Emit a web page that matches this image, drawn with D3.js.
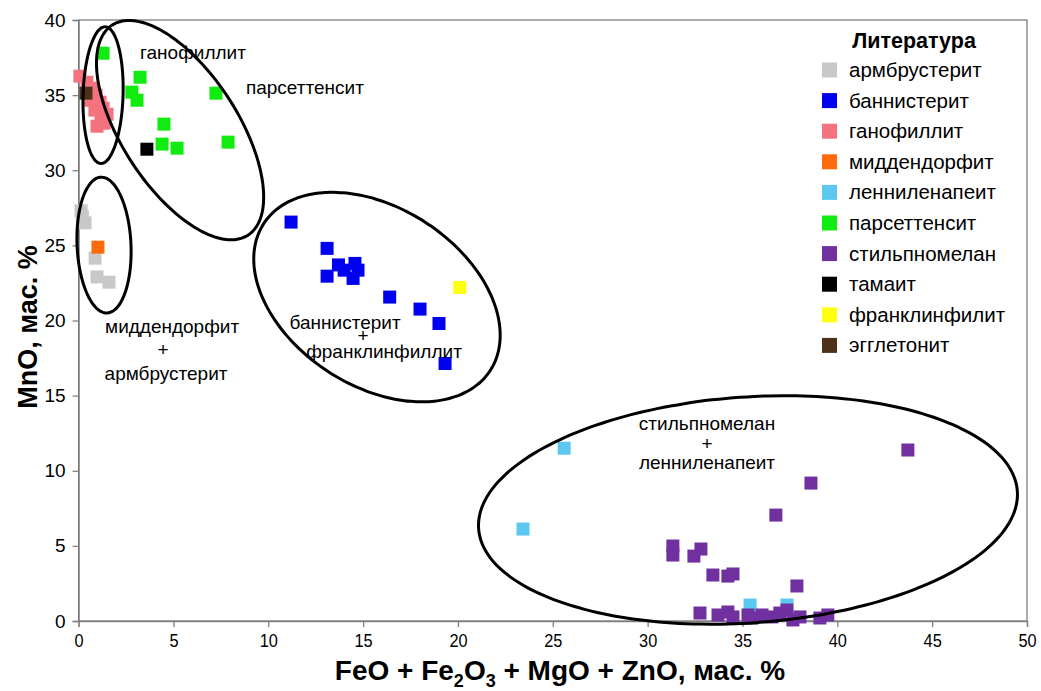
<!DOCTYPE html>
<html><head><meta charset="utf-8">
<script src="https://cdn.jsdelivr.net/npm/d3@7"></script>
<style>
body{margin:0;background:#fff}
text{font-family:"Liberation Sans",Arial,sans-serif;fill:#000}
</style>
</head><body>
<svg id="chart" width="1041" height="691"></svg>
<script>
// ---------- data ----------
const xTicks = [0,5,10,15,20,25,30,35,40,45,50];
const yTicks = [0,5,10,15,20,25,30,35,40];

const seriesNames = ["армбрустерит","баннистерит","ганофиллит","миддендорфит","ленниленапеит",
  "парсеттенсит","стильпномелан","тамаит","франклинфилит","эгглетонит"];
const seriesColors = ["#c8c8c8","#0000f0","#f4737f","#ff6a0a","#5cc8f0",
  "#10ec10","#7030a0","#000000","#ffff10","#4e3119"];

const armbrusterite = [[0.13,27.3],[0.2,26.9],[0.34,26.5],[0.87,24.15],[0.97,22.9],[1.6,22.55]];
const bannisterite = [[11.2,26.55],[13.1,24.8],[13.1,22.95],[13.7,23.7],[14.0,23.35],[14.57,23.8],
  [14.73,23.35],[14.47,22.8],[16.4,21.56],[18.0,20.76],[19.0,19.8],[19.32,17.14]];
const ganophyllite = [[0.07,36.26],[0.44,35.86],[0.71,35.46],[0.92,35.0],[1.13,34.53],[1.29,34.13],
  [1.5,33.73],[1.18,33.4],[0.97,32.93],[1.34,33.13],[0.6,34.66],[0.86,34.0]];
const middendorfite = [[1.02,24.88]];
const lennilenapeite = [[25.6,11.5],[23.43,6.12],[35.4,1.06],[37.35,1.06]];
const parsettensite = [[1.29,37.79],[3.24,36.19],[2.81,35.2],[3.08,34.66],[7.24,35.13],
  [4.5,33.07],[4.4,31.74],[5.19,31.47],[7.88,31.87]];
const stilpnomelane = [[43.72,11.38],[38.61,9.18],[36.76,7.05],[31.33,4.99],[31.33,4.39],[32.81,4.79],
  [32.44,4.32],[33.44,3.06],[34.23,2.99],[34.5,3.13],[37.87,2.33],
  [32.76,0.53],[33.71,0.4],[34.23,0.6],[34.5,0.27],[35.29,0.4],[35.5,0.2],[36.03,0.4],
  [36.55,0.27],[36.97,0.53],[37.34,0.73],[37.66,0.07],[38.03,0.27],[39.08,0.2],[39.5,0.4]];
const tamaite = [[3.6,31.4]];
const franklinphilite = [[20.1,22.2]];
const eggletonite = [[0.39,35.13]];

const seriesValues = [armbrusterite,bannisterite,ganophyllite,middendorfite,lennilenapeite,
  parsettensite,stilpnomelane,tamaite,franklinphilite,eggletonite];

// group ellipses: centre and two conjugate semi-axis vectors (data units)
const ellipseCentres = [[1.29,35.0],[5.35,32.67],[1.34,25.02],[15.73,21.56],[35.29,7.39]];
const ellipseAxisA  = [[0.105,4.55],[3.58,-6.99],[-0.16,4.52],[5.97,-4.89],[14.2,1.25]];
const ellipseAxisB  = [[1.054,0],[2.57,2.10],[1.42,0.07],[-2.56,-4.97],[0.42,-7.5]];

// group labels: lines of text with anchor positions (data units)
const groupLabelText = ["ганофиллит","парсеттенсит","миддендорфит","+","армбрустерит",
  "баннистерит","+","франклинфиллит","стильпномелан","+","ленниленапеит"];
const groupLabelPos = [[6.03,37.4],[11.93,35.06],[4.93,19.16],[4.45,17.63],[4.61,16.03],
  [14.05,19.43],[15.0,18.6],[16.1,17.5],[33.13,12.7],[33.13,11.38],[33.13,10.11]];

const legendTitle = "Литература";
const xTitleParts = [["FeO + Fe",""],["2","sub"],["O",""],["3","sub"],[" + MgO + ZnO, мас. %",""]];
const yTitle = "MnO, мас. %";

// ---------- layout ----------
const svg = d3.select("#chart");
const L = 78.6, R = 1027, T = 20, B = 621;
const x = d3.scaleLinear().domain([0,50]).range([L,R]);
const y = d3.scaleLinear().domain([0,40]).range([B,T]);

// frame
svg.append("rect").attr("x",L).attr("y",T).attr("width",R-L).attr("height",B-T)
  .attr("fill","none").attr("stroke","#5a5a5a").attr("stroke-width",1);

// axes
const xAxis = svg.append("g").attr("transform",`translate(0,${B})`)
  .call(d3.axisBottom(x).tickValues(xTicks).tickSize(6).tickPadding(5).tickFormat(d3.format("d")));
const yAxis = svg.append("g").attr("transform",`translate(${L},0)`)
  .call(d3.axisLeft(y).tickValues(yTicks).tickSize(6).tickPadding(7).tickFormat(d3.format("d")));
[xAxis,yAxis].forEach(g=>{
  g.select(".domain").attr("stroke","#808080").attr("stroke-width",1.3);
  g.selectAll(".tick line").attr("stroke","#808080").attr("stroke-width",1.3);
  g.selectAll(".tick text").attr("font-family","Liberation Sans, Arial, sans-serif")
    .attr("font-size",19).attr("fill","#111");
});
xAxis.selectAll(".tick text").attr("transform","scale(0.86,1)").attr("dy","0.8em");

// points
const sq = 13;
seriesValues.forEach((vals,i)=>{
  svg.append("g").selectAll("rect").data(vals).join("rect")
    .attr("x",d=>x(d[0])-sq/2).attr("y",d=>y(d[1])-sq/2)
    .attr("width",sq).attr("height",sq).attr("fill",seriesColors[i]);
});

// ellipses
const ts = d3.range(0,361,3).map(a=>a*Math.PI/180);
const line = d3.line().x(p=>x(p[0])).y(p=>y(p[1])).curve(d3.curveCardinalClosed);
ellipseCentres.forEach((c,i)=>{
  const a = ellipseAxisA[i], b = ellipseAxisB[i];
  const pts = ts.slice(0,-1).map(t=>[c[0]+a[0]*Math.cos(t)+b[0]*Math.sin(t),
                                     c[1]+a[1]*Math.cos(t)+b[1]*Math.sin(t)]);
  svg.append("path").attr("d",line(pts)).attr("fill","none")
    .attr("stroke","#000").attr("stroke-width",3);
});

// group labels
svg.append("g").selectAll("text").data(groupLabelText).join("text")
  .attr("x",(d,i)=>x(groupLabelPos[i][0])).attr("y",(d,i)=>y(groupLabelPos[i][1]))
  .attr("text-anchor","middle").attr("font-size",19).text(d=>d);

// legend
const lg = svg.append("g");
lg.append("text").attr("x",914).attr("y",48).attr("text-anchor","middle")
  .attr("font-size",21.5).attr("font-weight","bold").text(legendTitle);
seriesNames.forEach((n,i)=>{
  const cy = 70 + i*30.6;
  lg.append("rect").attr("x",822).attr("y",cy-7.5).attr("width",15).attr("height",15)
    .attr("fill",seriesColors[i]);
  lg.append("text").attr("x",849).attr("y",cy+7).attr("font-size",20.5).text(n);
});

// axis titles
const xt = svg.append("text").attr("x",560).attr("y",680).attr("text-anchor","middle")
  .attr("font-size",28).attr("font-weight","bold");
xTitleParts.forEach((p,i)=>{
  const t2 = xt.append("tspan").text(p[0]);
  if(p[1]==="sub") t2.attr("font-size",18).attr("dy",7);
  else if(i>0) t2.attr("dy",-7);
});
svg.append("text").attr("transform","translate(37,327) rotate(-90)")
  .attr("text-anchor","middle").attr("font-size",27).attr("font-weight","bold").text(yTitle);
</script>
</body></html>
